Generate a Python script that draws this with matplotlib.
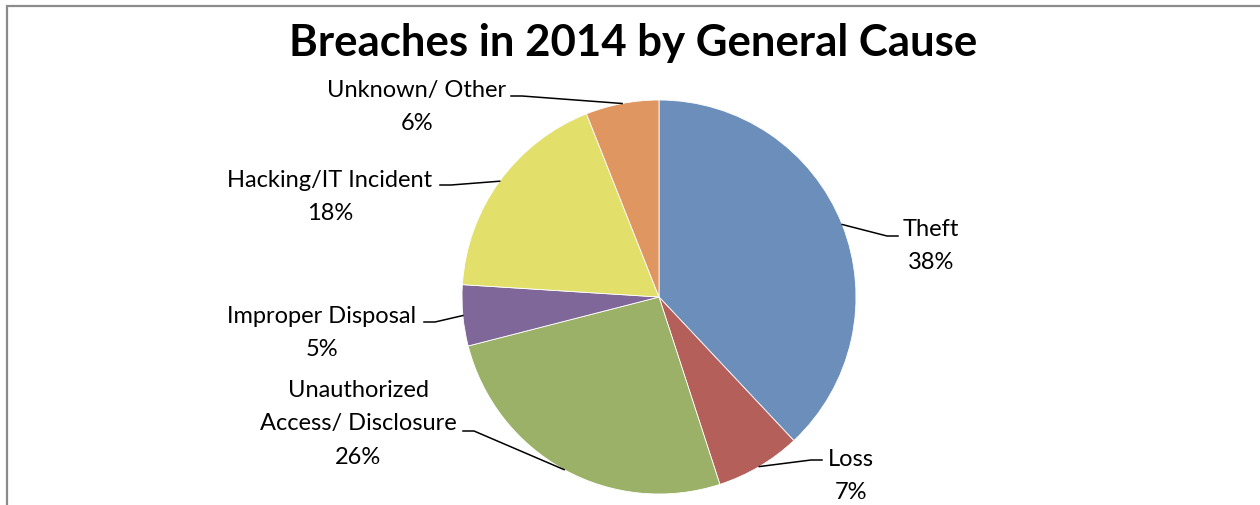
import numpy as np
import matplotlib
matplotlib.use("Agg")
import matplotlib.pyplot as plt
from matplotlib.patches import Rectangle

# Breach share by general cause, 2014
causes = ["Theft", "Loss", "Unauthorized\nAccess/ Disclosure",
          "Improper Disposal", "Hacking/IT Incident", "Unknown/ Other"]
shares = [38, 7, 26, 5, 18, 6]
colors = ["#6C8EBA", "#B45F5A", "#9BB168", "#7F6899", "#E2E06B", "#DF9660"]

W, H = 1260, 506
plt.rcParams["font.family"] = ["Lato", "DejaVu Sans"]

fig = plt.figure(figsize=(W / 100, H / 100), dpi=100)
ax = fig.add_axes([0, 0, 1, 1])

# chart frame (runs off the right and bottom edges)
fig.patches.append(Rectangle((7, -10), W + 20, H - 7 + 10,
                             transform=None, fill=False,
                             edgecolor="#8C8C8C", linewidth=1.6))

cx, cy, r = 659, H - 298, 197
wedges, _ = ax.pie(shares, colors=colors, startangle=90, counterclock=False,
                   center=(cx, cy), radius=r, frame=True,
                   wedgeprops=dict(edgecolor="white", linewidth=0.6))
ax.set_xlim(0, W)
ax.set_ylim(0, H)
ax.set_aspect("equal")
ax.axis("off")

ax.text(633, H - 43, "Breaches in 2014 by General Cause", ha="center",
        va="center", fontsize=31.5, fontweight="bold", color="black")

# label block centre (pixels from top-left) and the end of the leader line
label_pos = [
    (931, 246, (898, 237)),
    (851, 476, (822, 461)),
    (358, 424, (463, 432)),
    (322, 333, (424, 323)),
    (330, 197, (440, 186)),
    (417, 107, (511, 97)),
]

for w, name, val, (tx, ty, knee) in zip(wedges, causes, shares, label_pos):
    mid = np.deg2rad((w.theta1 + w.theta2) / 2)
    ex, ey = cx + r * np.cos(mid), cy + r * np.sin(mid)
    kx, ky = knee[0], H - knee[1]
    step = 11 if kx < cx else -11
    ax.plot([kx, kx + step, ex], [ky, ky, ey], color="black", lw=1.1,
            solid_joinstyle="miter")
    ax.text(tx, H - ty, f"{name}\n{val}%", ha="center", va="center",
            fontsize=17, linespacing=1.72, color="black")

fig.savefig("out.png", dpi=100)
